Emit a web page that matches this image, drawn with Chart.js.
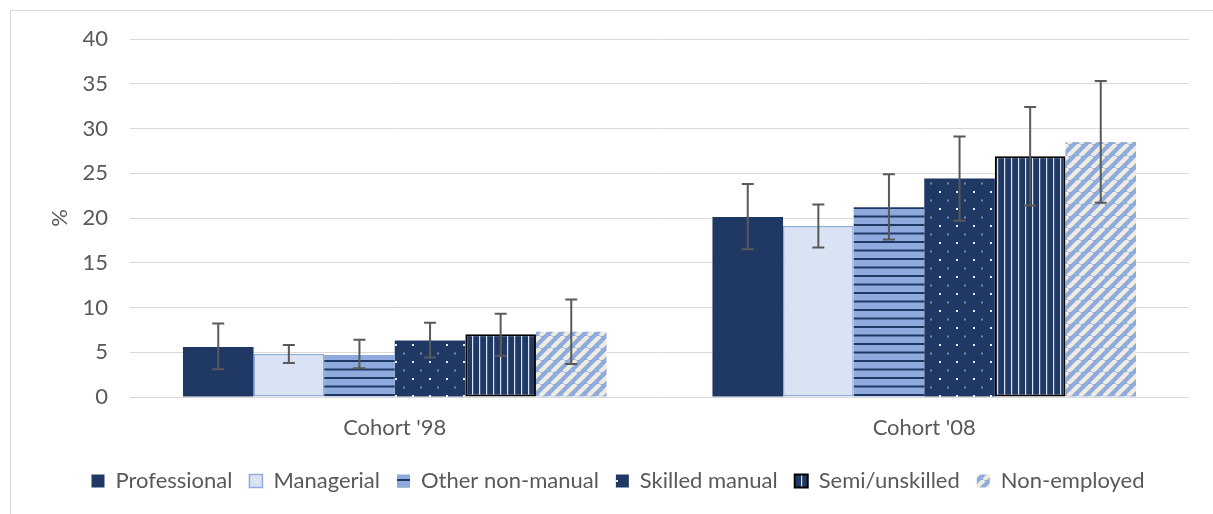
<!DOCTYPE html>
<html>
<head>
<meta charset="utf-8">
<script src="https://cdn.jsdelivr.net/npm/chart.js@4/dist/chart.umd.min.js"></script>
<style>
  html, body { margin: 0; padding: 0; background: #fff; }
  #wrap { position: absolute; left: 0; top: 0; width: 1213px; height: 514px; }
  #frame { position: absolute; left: 10px; top: 10px; width: 1203px; height: 504px;
           border-left: 1px solid #D9D9D9; border-top: 1px solid #D9D9D9; box-sizing: border-box; pointer-events: none; }
</style>
</head>
<body>
<div id="wrap"><canvas id="c" width="1213" height="514"></canvas><div id="frame"></div></div>
<script>
const categories = ["Cohort '98", "Cohort '08"];
const seriesNames = ["Professional", "Managerial", "Other non-manual", "Skilled manual", "Semi/unskilled", "Non-employed"];

const professional   = [5.6, 20.1];
const managerial     = [4.8, 19.1];
const otherNonManual = [4.7, 21.2];
const skilledManual  = [6.3, 24.4];
const semiUnskilled  = [7.0, 26.9];
const nonEmployed    = [7.3, 28.5];

const professionalLow   = [3.1, 16.5], professionalHigh   = [8.2, 23.8];
const managerialLow     = [3.8, 16.7], managerialHigh     = [5.8, 21.5];
const otherNonManualLow = [3.2, 17.6], otherNonManualHigh = [6.4, 24.9];
const skilledManualLow  = [4.4, 19.7], skilledManualHigh  = [8.3, 29.1];
const semiUnskilledLow  = [4.6, 21.4], semiUnskilledHigh  = [9.3, 32.4];
const nonEmployedLow    = [3.7, 21.7], nonEmployedHigh    = [10.9, 35.3];

const yTicks = [0, 5, 10, 15, 20, 25, 30, 35, 40];

const NAVY = '#203864', LIGHT = '#DAE3F3', MID = '#8FAADC', CREAM = '#EEECE1';

function makePattern(w, h, draw) {
  const cv = document.createElement('canvas');
  cv.width = w; cv.height = h;
  const g = cv.getContext('2d');
  draw(g, w, h);
  return cv.getContext('2d').createPattern(cv, 'repeat');
}
const hStripes = makePattern(17, 17, (g, w, h) => {
  g.fillStyle = MID; g.fillRect(0, 0, w, h);
  g.fillStyle = NAVY; g.fillRect(0, 3, w, 2); g.fillRect(0, 11.5, w, 2);
});
const dots = makePattern(17, 17, (g, w, h) => {
  g.fillStyle = NAVY; g.fillRect(0, 0, w, h);
  g.fillStyle = '#E8EDF7'; g.fillRect(4, 4, 2, 2);
  g.fillStyle = '#C9D3E6'; g.fillRect(12.5, 12.5, 1, 2);
});
const vStripes = makePattern(7, 7, (g, w, h) => {
  g.fillStyle = NAVY; g.fillRect(0, 0, w, h);
  g.fillStyle = LIGHT; g.fillRect(3, 0, 1.2, h);
});
const diag = makePattern(12, 12, (g, w, h) => {
  g.fillStyle = MID; g.fillRect(0, 0, w, h);
  g.strokeStyle = CREAM; g.lineWidth = 4.2;
  for (let k = -2; k <= 2; k++) {
    g.beginPath(); g.moveTo(k * w, h); g.lineTo(k * w + w, 0); g.stroke();
  }
});

const values = [professional, managerial, otherNonManual, skilledManual, semiUnskilled, nonEmployed];
const lows   = [professionalLow, managerialLow, otherNonManualLow, skilledManualLow, semiUnskilledLow, nonEmployedLow];
const highs  = [professionalHigh, managerialHigh, otherNonManualHigh, skilledManualHigh, semiUnskilledHigh, nonEmployedHigh];
const fills  = [NAVY, LIGHT, hStripes, dots, vStripes, diag];
const borders = [NAVY, MID, MID, NAVY, '#000000', MID];
const bw = [0, 1.5, 0, 0, 2, 0];

const errorBars = {
  id: 'errorBars',
  afterDatasetsDraw(chart) {
    const ctx = chart.ctx, ys = chart.scales.y;
    ctx.save();
    ctx.strokeStyle = '#595959';
    ctx.lineWidth = 2;
    chart.data.datasets.forEach((ds, di) => {
      const meta = chart.getDatasetMeta(di);
      meta.data.forEach((bar, i) => {
        const x = bar.x;
        const yh = ys.getPixelForValue(ds.errHigh[i]);
        const yl = ys.getPixelForValue(ds.errLow[i]);
        ctx.beginPath();
        ctx.moveTo(x, yh); ctx.lineTo(x, yl);
        ctx.moveTo(x - 6, yh); ctx.lineTo(x + 6, yh);
        ctx.moveTo(x - 6, yl); ctx.lineTo(x + 6, yl);
        ctx.stroke();
      });
    });
    ctx.restore();
  }
};

const FONT = 'Lato, "Liberation Sans", sans-serif';

new Chart(document.getElementById('c'), {
  type: 'bar',
  data: {
    labels: categories,
    datasets: seriesNames.map((name, k) => ({
      label: name,
      data: values[k],
      errLow: lows[k],
      errHigh: highs[k],
      backgroundColor: fills[k],
      borderColor: borders[k],
      borderWidth: bw[k],
      borderSkipped: false,
      barPercentage: 1.0,
      categoryPercentage: 0.8
    }))
  },
  options: {
    responsive: false,
    animation: false,
    devicePixelRatio: 1,
    layout: { padding: { left: 47, right: 24, top: 39, bottom: 12 } },
    plugins: {
      tooltip: { enabled: false },
      legend: {
        position: 'bottom',
        labels: {
          boxWidth: 13, boxHeight: 13, padding: 17,
          color: '#595959',
          font: { family: FONT, size: 22 }
        }
      }
    },
    scales: {
      x: {
        afterFit(scale) { scale.height = 56; },
        grid: { display: false, drawTicks: false },
        border: { display: false },
        ticks: { color: '#595959', font: { family: FONT, size: 22 }, padding: 18 }
      },
      y: {
        min: 0, max: 40,
        afterBuildTicks(scale) { scale.ticks = yTicks.map(v => ({ value: v })); },
        afterFit(scale) { scale.width = 83; },
        grid: { color: '#D9D9D9', lineWidth: 1, drawTicks: false },
        border: { display: false },
        ticks: { color: '#595959', font: { family: FONT, size: 22 }, padding: 22 },
        title: { display: true, text: '%', color: '#595959', font: { family: FONT, size: 22 }, padding: 0 }
      }
    }
  },
  plugins: [errorBars]
});
</script>
</body>
</html>
